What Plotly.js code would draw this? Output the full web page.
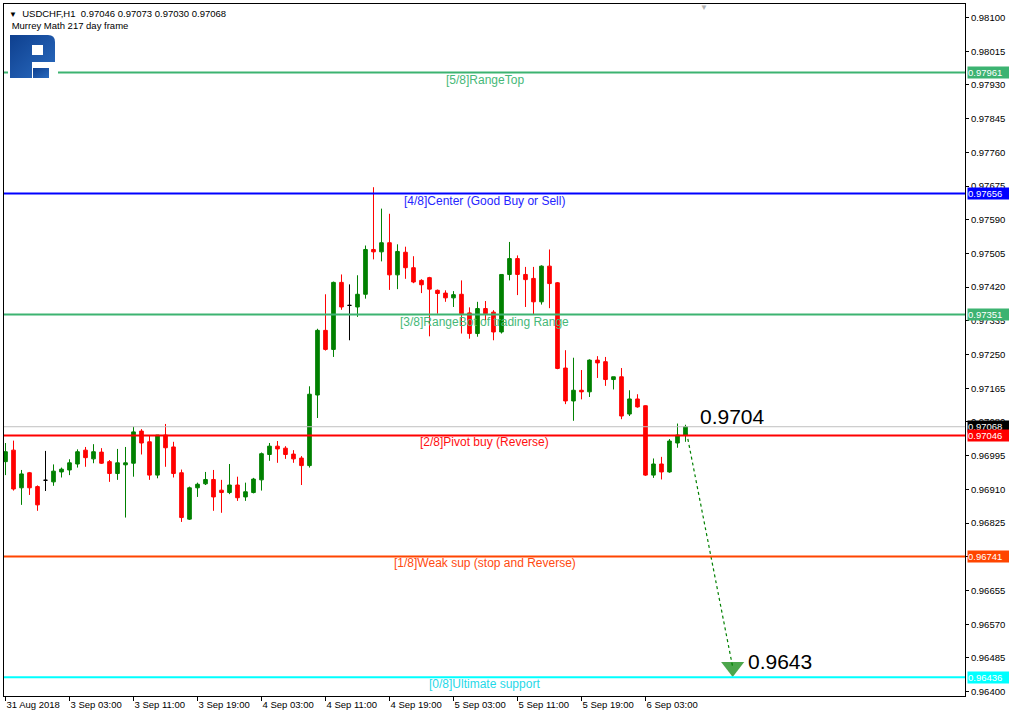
<!DOCTYPE html>
<html><head><meta charset="utf-8">
<script src="https://cdn.plot.ly/plotly-3.0.1.min.js"></script>
<style>html,body{margin:0;padding:0;background:#fff;overflow:hidden}#chart{width:1009px;height:715px;}</style>
</head><body><div id="chart"></div>
<script>
const symbolName = 'USDCHF,H1';
const indicatorName = 'Murrey Math 217 day frame';

const openP = [
0.96980,0.97009,0.96914,0.96952,0.96917,0.96933,0.96929,0.96954,0.96959,0.96974,
0.97009,0.96987,0.97004,0.96980,0.96950,0.96972,0.96976,0.97057,0.97030,0.96946,
0.97047,0.97017,0.96952,0.96835,0.96914,0.96924,0.96935,0.96908,0.96902,0.96921,
0.96891,0.96902,0.96934,0.96998,0.97019,0.97014,0.96999,0.96989,0.96970,0.97148,
0.97311,0.97263,0.97432,0.97374,0.97370,0.97402,0.97515,0.97509,0.97532,0.97451,
0.97508,0.97469,0.97437,0.97444,0.97412,0.97405,0.97393,0.97402,0.97355,0.97303,
0.97366,0.97357,0.97307,0.97452,0.97492,0.97452,0.97442,0.97383,0.97473,0.97431,
0.97216,0.97133,0.97160,0.97156,0.97236,0.97232,0.97187,0.97194,0.97100,0.97138,
0.97121,0.96946,0.96974,0.96954,0.97027,0.97046];
const highP = [
0.97027,0.97033,0.96959,0.96954,0.96920,0.97007,0.96973,0.96965,0.96986,0.97011,
0.97017,0.97024,0.97014,0.96984,0.97012,0.97017,0.97068,0.97062,0.97047,0.97047,
0.97075,0.97030,0.96960,0.96917,0.96927,0.96954,0.96959,0.96934,0.96974,0.96942,
0.96927,0.96939,0.97003,0.97027,0.97032,0.97019,0.97009,0.96994,0.97170,0.97315,
0.97402,0.97434,0.97452,0.97427,0.97450,0.97525,0.97672,0.97618,0.97605,0.97528,
0.97522,0.97498,0.97440,0.97446,0.97414,0.97412,0.97410,0.97437,0.97369,0.97383,
0.97385,0.97362,0.97452,0.97534,0.97500,0.97471,0.97471,0.97475,0.97515,0.97433,
0.97261,0.97242,0.97211,0.97238,0.97246,0.97244,0.97194,0.97216,0.97160,0.97150,
0.97122,0.96988,0.96992,0.97037,0.97076,0.97073];
const lowP = [
0.96946,0.96907,0.96871,0.96896,0.96856,0.96906,0.96919,0.96940,0.96946,0.96965,
0.96967,0.96976,0.96974,0.96929,0.96934,0.96839,0.96942,0.96998,0.96934,0.96938,
0.96967,0.96940,0.96828,0.96833,0.96891,0.96921,0.96856,0.96851,0.96898,0.96881,
0.96881,0.96900,0.96907,0.96982,0.96977,0.96987,0.96977,0.96921,0.96965,0.97090,
0.97260,0.97244,0.97363,0.97286,0.97345,0.97391,0.97490,0.97485,0.97413,0.97415,
0.97441,0.97430,0.97405,0.97296,0.97353,0.97383,0.97370,0.97303,0.97290,0.97295,
0.97337,0.97286,0.97303,0.97437,0.97400,0.97370,0.97352,0.97376,0.97367,0.97213,
0.97125,0.97083,0.97137,0.97143,0.97191,0.97171,0.97162,0.97087,0.97095,0.97116,
0.96944,0.96939,0.96935,0.96952,0.97015,0.97030];
const closeP = [
0.97005,0.96911,0.96949,0.96914,0.96871,0.96933,0.96956,0.96961,0.96977,0.97005,
0.96990,0.97005,0.96976,0.96950,0.96977,0.96977,0.97055,0.97027,0.96946,0.97047,
0.97015,0.96950,0.96839,0.96914,0.96923,0.96935,0.96891,0.96902,0.96921,0.96889,
0.96904,0.96936,0.97000,0.97019,0.97012,0.96998,0.96987,0.96970,0.97150,0.97311,
0.97263,0.97432,0.97370,0.97374,0.97402,0.97515,0.97509,0.97532,0.97451,0.97510,
0.97469,0.97433,0.97426,0.97415,0.97404,0.97393,0.97401,0.97353,0.97303,0.97366,
0.97353,0.97307,0.97452,0.97492,0.97452,0.97439,0.97383,0.97473,0.97429,0.97215,
0.97133,0.97160,0.97156,0.97236,0.97229,0.97187,0.97194,0.97095,0.97138,0.97118,
0.96946,0.96974,0.96954,0.97032,0.97047,0.97068];

const tickBars = [0,8,16,24,32,40,48,56,64,72,80];
const tickLabels = ['31 Aug 2018','3 Sep 03:00','3 Sep 11:00','3 Sep 19:00','4 Sep 03:00','4 Sep 11:00','4 Sep 19:00','5 Sep 03:00','5 Sep 11:00','5 Sep 19:00','6 Sep 03:00'];
const yTickValues = [0.96400,0.96485,0.96570,0.96655,0.96740,0.96825,0.96910,0.96995,0.97080,0.97165,0.97250,0.97335,0.97420,0.97505,0.97590,0.97675,0.97760,0.97845,0.97930,0.98015,0.98100];
// 0.96740 is fully hidden behind the 0.96741 price tag in the original
const yTickLabels = ['0.96400','0.96485','0.96570','0.96655','','0.96825','0.96910','0.96995','0.97080','0.97165','0.97250','0.97335','0.97420','0.97505','0.97590','0.97675','0.97760','0.97845','0.97930','0.98015','0.98100'];

const levelNames = ['[5/8]RangeTop','[4/8]Center (Good Buy or Sell)','[3/8]RangeBot of trading Range','[2/8]Pivot buy (Reverse)','[1/8]Weak sup (stop and Reverse)','[0/8]Ultimate support'];
const levelValues = [0.97961,0.97656,0.97351,0.97046,0.96741,0.96436];

const forecastLabels = [0.9704, 0.9643];
const arrowBars = [85.15, 90.9];
const arrowPrices = [0.97052, 0.96462];

// ---- styling ----
const levelLineColors = ['#3CB371','#0000FF','#3CB371','#FF0000','#FF4500','#00FFFF'];
const levelTextColors = ['#46B878','#2525FF','#46B878','#FF1010','#FF4A10','#1FD8E8'];
const FONT = 'Liberation Sans, Arial, sans-serif';
const UP = '#008000', DOWN = '#FF0000';

const n = openP.length;
const idx = openP.map((_, i) => i);
const main = idx.filter(i => openP[i] !== closeP[i]);
const doji = idx.filter(i => openP[i] === closeP[i]);
const pick = (arr, ids) => ids.map(i => arr[i]);

const traces = [
  {
    type: 'candlestick', x: main, open: pick(openP, main), high: pick(highP, main),
    low: pick(lowP, main), close: pick(closeP, main),
    increasing: {line: {color: UP, width: 1}, fillcolor: UP},
    decreasing: {line: {color: DOWN, width: 1}, fillcolor: DOWN},
    whiskerwidth: 0, hoverinfo: 'skip', showlegend: false
  },
  {
    type: 'candlestick', x: doji, open: pick(openP, doji), high: pick(highP, doji),
    low: pick(lowP, doji), close: pick(closeP, doji),
    increasing: {line: {color: '#000', width: 1}, fillcolor: '#000'},
    decreasing: {line: {color: '#000', width: 1}, fillcolor: '#000'},
    whiskerwidth: 0, hoverinfo: 'skip', showlegend: false
  },
  {
    type: 'scatter', mode: 'lines+markers', x: arrowBars, y: arrowPrices,
    line: {color: UP, width: 1.2, dash: '3px,3px'},
    marker: {symbol: ['circle','triangle-down'], size: [0, 20], color: UP, line: {width: 0}},
    hoverinfo: 'skip', showlegend: false, cliponaxis: false
  }
];

const lastClose = closeP[n - 1];
const shapes = levelValues.map((v, i) => ({
  type: 'line', xref: 'paper', x0: 0, x1: 1, yref: 'y', y0: v, y1: v,
  line: {color: levelLineColors[i], width: 2}, layer: i === 0 ? 'below' : 'above'
}));
shapes.unshift({type: 'line', xref: 'paper', x0: 0, x1: 1, yref: 'y', y0: lastClose, y1: lastClose,
  line: {color: '#C0C0C0', width: 1}, layer: 'above'});

const annotations = [];
levelValues.forEach((v, i) => {
  annotations.push({xref: 'paper', x: 0.5, yref: 'y', y: v, yanchor: 'top', yshift: 2,
    text: levelNames[i], showarrow: false, font: {family: FONT, size: 12, color: levelTextColors[i]}});
});
// price tags on the right axis
annotations.push({xref: 'paper', x: 1, xanchor: 'left', xshift: 2, yref: 'y', y: lastClose, yanchor: 'middle',
  text: lastClose.toFixed(5), showarrow: false, bgcolor: '#000', borderpad: 0, width: 41, align: 'left',
  font: {family: FONT, size: 9.5, color: '#fff'}});
levelValues.forEach((v, i) => {
  annotations.push({xref: 'paper', x: 1, xanchor: 'left', xshift: 2, yref: 'y', y: v, yanchor: 'middle',
    text: v.toFixed(5), showarrow: false, bgcolor: levelLineColors[i], borderpad: 0, width: 41, align: 'left',
    font: {family: FONT, size: 9.5, color: '#fff'}});
});
// forecast labels
annotations.push({xref: 'x', x: arrowBars[0] + 1.45, xanchor: 'left', yref: 'y', y: forecastLabels[0], yanchor: 'bottom', yshift: 8,
  text: forecastLabels[0].toFixed(4), showarrow: false, font: {family: FONT, size: 21, color: '#000'}});
annotations.push({xref: 'x', x: arrowBars[1] + 1.7, xanchor: 'left', yref: 'y', y: forecastLabels[1], yanchor: 'bottom', yshift: 5,
  text: forecastLabels[1].toFixed(4), showarrow: false, font: {family: FONT, size: 21, color: '#000'}});
// header
annotations.push({xref: 'paper', x: 0, xanchor: 'left', xshift: 3, yref: 'paper', y: 1, yanchor: 'top', yshift: -2,
  align: 'left', showarrow: false, font: {family: FONT, size: 9.5, color: '#000'},
  text: '<span style="font-size:8px">▼</span>  ' + symbolName + '  ' +
        [openP[n-1], highP[n-1], lowP[n-1], closeP[n-1]].map(v => v.toFixed(5)).join(' ') +
        '<br> ' + indicatorName});
// chart shift marker
annotations.push({xref: 'paper', x: 0.7345, yref: 'paper', y: 1, yanchor: 'top', yshift: 3, showarrow: false,
  text: '▼', font: {size: 8, color: '#B0B0B0'}});

const logoSvg = '<svg xmlns="http://www.w3.org/2000/svg" viewBox="0 0 50 48" width="50" height="48">' +
  '<defs><linearGradient id="g" x1="0" y1="0" x2="1" y2="1"><stop offset="0" stop-color="#0e3f8e"/><stop offset="1" stop-color="#2a6bc0"/></linearGradient></defs>' +
  '<rect width="50" height="48" fill="#fff"/>' +
  '<path d="M2,3 H40 Q47,3 47,10 V30 H24 V23 H35 V13 H24 V46 H2 Z" fill="url(#g)"/>' +
  '<path d="M25,36 H41 V46 H25 Z" fill="url(#g)"/></svg>';

const layout = {
  width: 1009, height: 715,
  margin: {l: 4, r: 44, t: 4, b: 19, pad: 0},
  paper_bgcolor: '#fff', plot_bgcolor: '#fff',
  showlegend: false, boxgap: 0.35,
  font: {family: FONT, size: 9.5, color: '#000'},
  xaxis: {
    range: [-0.1875, 119.94], showgrid: false, zeroline: false,
    tickmode: 'array', tickvals: tickBars, ticktext: tickLabels,
    ticks: 'outside', ticklen: 4, tickcolor: '#000', tickwidth: 1,
    ticklabelposition: 'outside right',
    showline: true, linecolor: '#000', linewidth: 1, mirror: true,
    rangeslider: {visible: false}, fixedrange: true,
    tickfont: {family: FONT, size: 9.5, color: '#000'}
  },
  yaxis: {
    range: [0.96389, 0.98134], side: 'right', showgrid: false, zeroline: false,
    tickmode: 'array', tickvals: yTickValues, ticktext: yTickLabels,
    ticks: 'outside', ticklen: 3, tickcolor: '#000',
    showline: true, linecolor: '#000', linewidth: 1, mirror: true, fixedrange: true,
    tickfont: {family: FONT, size: 9.5, color: '#000'}
  },
  shapes: shapes,
  annotations: annotations,
  images: [{
    source: 'data:image/svg+xml;charset=utf-8,' + encodeURIComponent(logoSvg),
    xref: 'paper', yref: 'paper', x: 4 / 961, y: 1 - 28 / 692,
    sizex: 50 / 961, sizey: 48 / 692, sizing: 'stretch', xanchor: 'left', yanchor: 'top', layer: 'above'
  }]
};

Plotly.newPlot('chart', traces, layout, {displayModeBar: false, staticPlot: true});
</script></body></html>
